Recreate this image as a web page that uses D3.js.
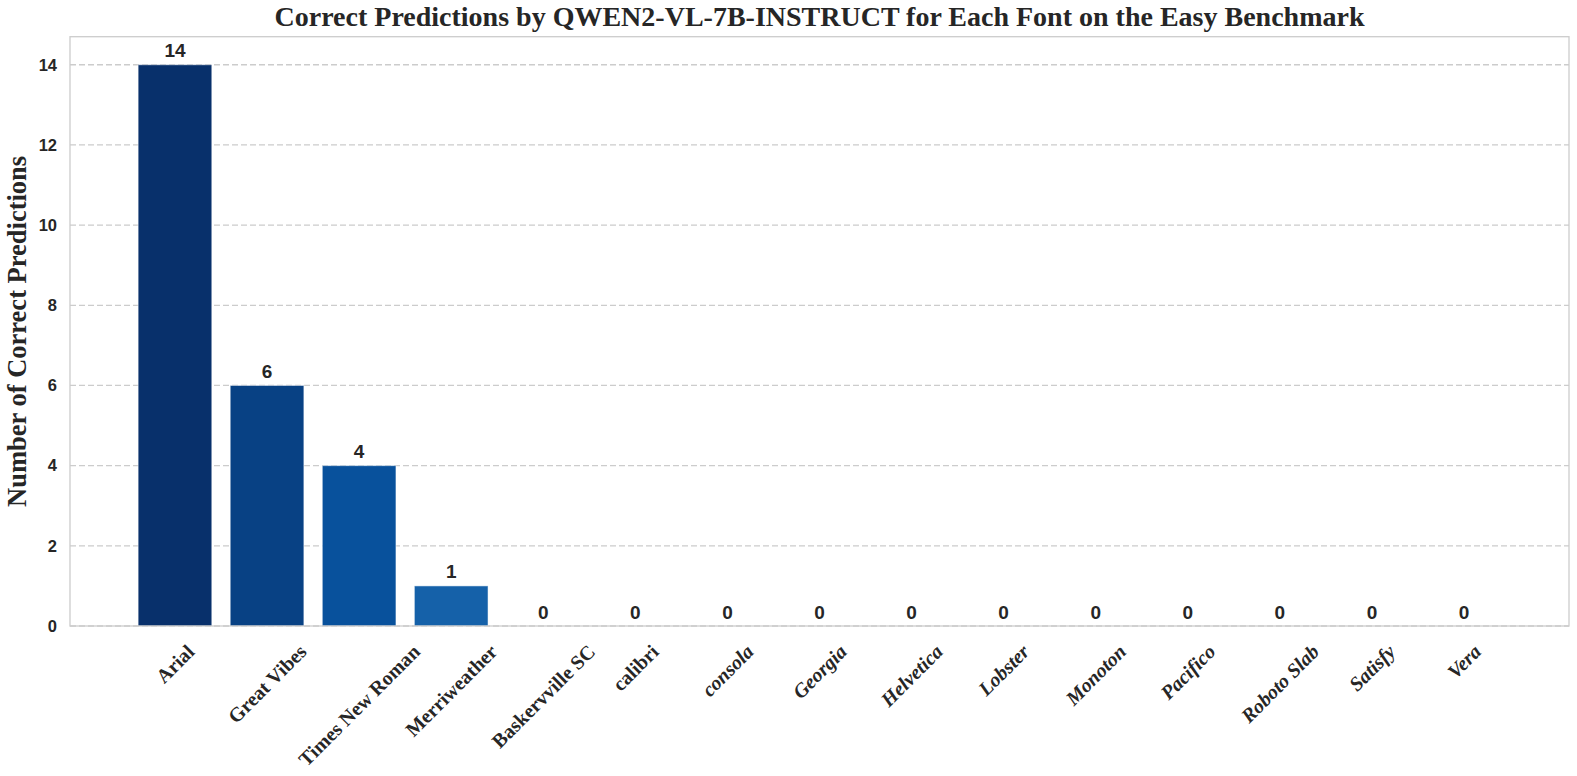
<!DOCTYPE html>
<html><head><meta charset="utf-8">
<script src="https://cdn.jsdelivr.net/npm/d3@7"></script>
<style>body{margin:0;background:#fff}</style>
</head><body>
<svg id="c" width="1577" height="776"></svg>
<script>
const categories = ["Arial","Great Vibes","Times New Roman","Merriweather","Baskervville SC","calibri","consola","Georgia","Helvetica","Lobster","Monoton","Pacifico","Roboto Slab","Satisfy","Vera"];
const values = [14,6,4,1,0,0,0,0,0,0,0,0,0,0,0];
const yTicks = [0,2,4,6,8,10,12,14];
const italicFrom = 6;
const titleText = "Correct Predictions by QWEN2-VL-7B-INSTRUCT for Each Font on the Easy Benchmark";
const yLabelText = "Number of Correct Predictions";

// Blues colormap nodes (reversed palette sampling)
const bluesNodes = ["#f7fbff","#deebf7","#c6dbef","#9ecae1","#6baed6","#4292c6","#2171b5","#08519c","#08306b"];
const blues = d3.scaleLinear().domain(d3.range(9).map(i=>i/8)).range(bluesNodes).interpolate(d3.interpolateRgb);
const colorOf = i => blues(1 - i/16);

const svg = d3.select("#c");
const L=70, R=1569, T=36.7, B=626;
const x = d3.scaleBand().domain(categories).range([L,R]).paddingInner(0.2).paddingOuter(0.74);
const y = d3.scaleLinear().domain([0,14.7]).range([B,T]);

// grid
svg.append("g").selectAll("line").data(yTicks).join("line")
  .attr("x1",L).attr("x2",R).attr("y1",d=>y(d)).attr("y2",d=>y(d))
  .attr("stroke","#cccccc").attr("stroke-width",1.3).attr("stroke-dasharray","6,3");

// bars
svg.append("g").selectAll("rect").data(values).join("rect")
  .attr("x",(d,i)=>x(categories[i])).attr("width",x.bandwidth())
  .attr("y",d=>y(d)).attr("height",d=>B-y(d))
  .attr("fill",(d,i)=>colorOf(i))
  .attr("stroke","#ffffff").attr("stroke-opacity",0.5).attr("stroke-width",1);

// frame
svg.append("rect").attr("x",L).attr("y",T).attr("width",R-L).attr("height",B-T)
  .attr("fill","none").attr("stroke","#cccccc").attr("stroke-width",1.3);

// value labels
svg.append("g").selectAll("text").data(values).join("text")
  .attr("x",(d,i)=>x(categories[i])+x.bandwidth()/2).attr("y",d=>y(d)-7.5)
  .attr("text-anchor","middle").attr("font-family","'Liberation Sans',Arial,sans-serif")
  .attr("font-weight","bold").attr("font-size",19).attr("fill","#262626").text(d=>d);

// y axis
const yAxis = d3.axisLeft(y).tickValues(yTicks).tickSize(0).tickPadding(13);
const gy = svg.append("g").attr("transform",`translate(${L},0)`).call(yAxis);
gy.select(".domain").remove();
gy.selectAll("text").attr("font-family","'Liberation Sans',Arial,sans-serif").attr("font-weight","bold")
  .attr("font-size",16.5).attr("fill","#262626");

// x labels
const xg = svg.append("g");
categories.forEach((c,i)=>{
  const cx = x(c)+x.bandwidth()/2;
  const fs = 20;
  const t = xg.append("text").attr("font-family","'Liberation Serif','Times New Roman',serif")
    .attr("font-weight","bold").attr("font-size",fs).attr("fill","#262626")
    .attr("font-style", i>=italicFrom ? "italic":"normal")
    .attr("text-anchor","middle").attr("dominant-baseline","central").text(c);
  const len = t.node().getComputedTextLength();
  const h = fs*0.85;
  const bb = (len + h)*Math.SQRT1_2;
  const cy = 642 + bb/2;
  t.attr("transform",`translate(${cx},${cy}) rotate(-45)`);
});

// title
svg.append("text").attr("x",(L+R)/2).attr("y",25.5).attr("text-anchor","middle")
  .attr("font-family","'Liberation Serif','Times New Roman',serif").attr("font-weight","bold")
  .attr("font-size",28).attr("fill","#262626").text(titleText);

// y label
svg.append("text").attr("transform",`translate(26,${(T+B)/2}) rotate(-90)`).attr("text-anchor","middle")
  .attr("font-family","'Liberation Serif','Times New Roman',serif").attr("font-weight","bold")
  .attr("font-size",26.5).attr("fill","#262626").text(yLabelText);
</script>
</body></html>
